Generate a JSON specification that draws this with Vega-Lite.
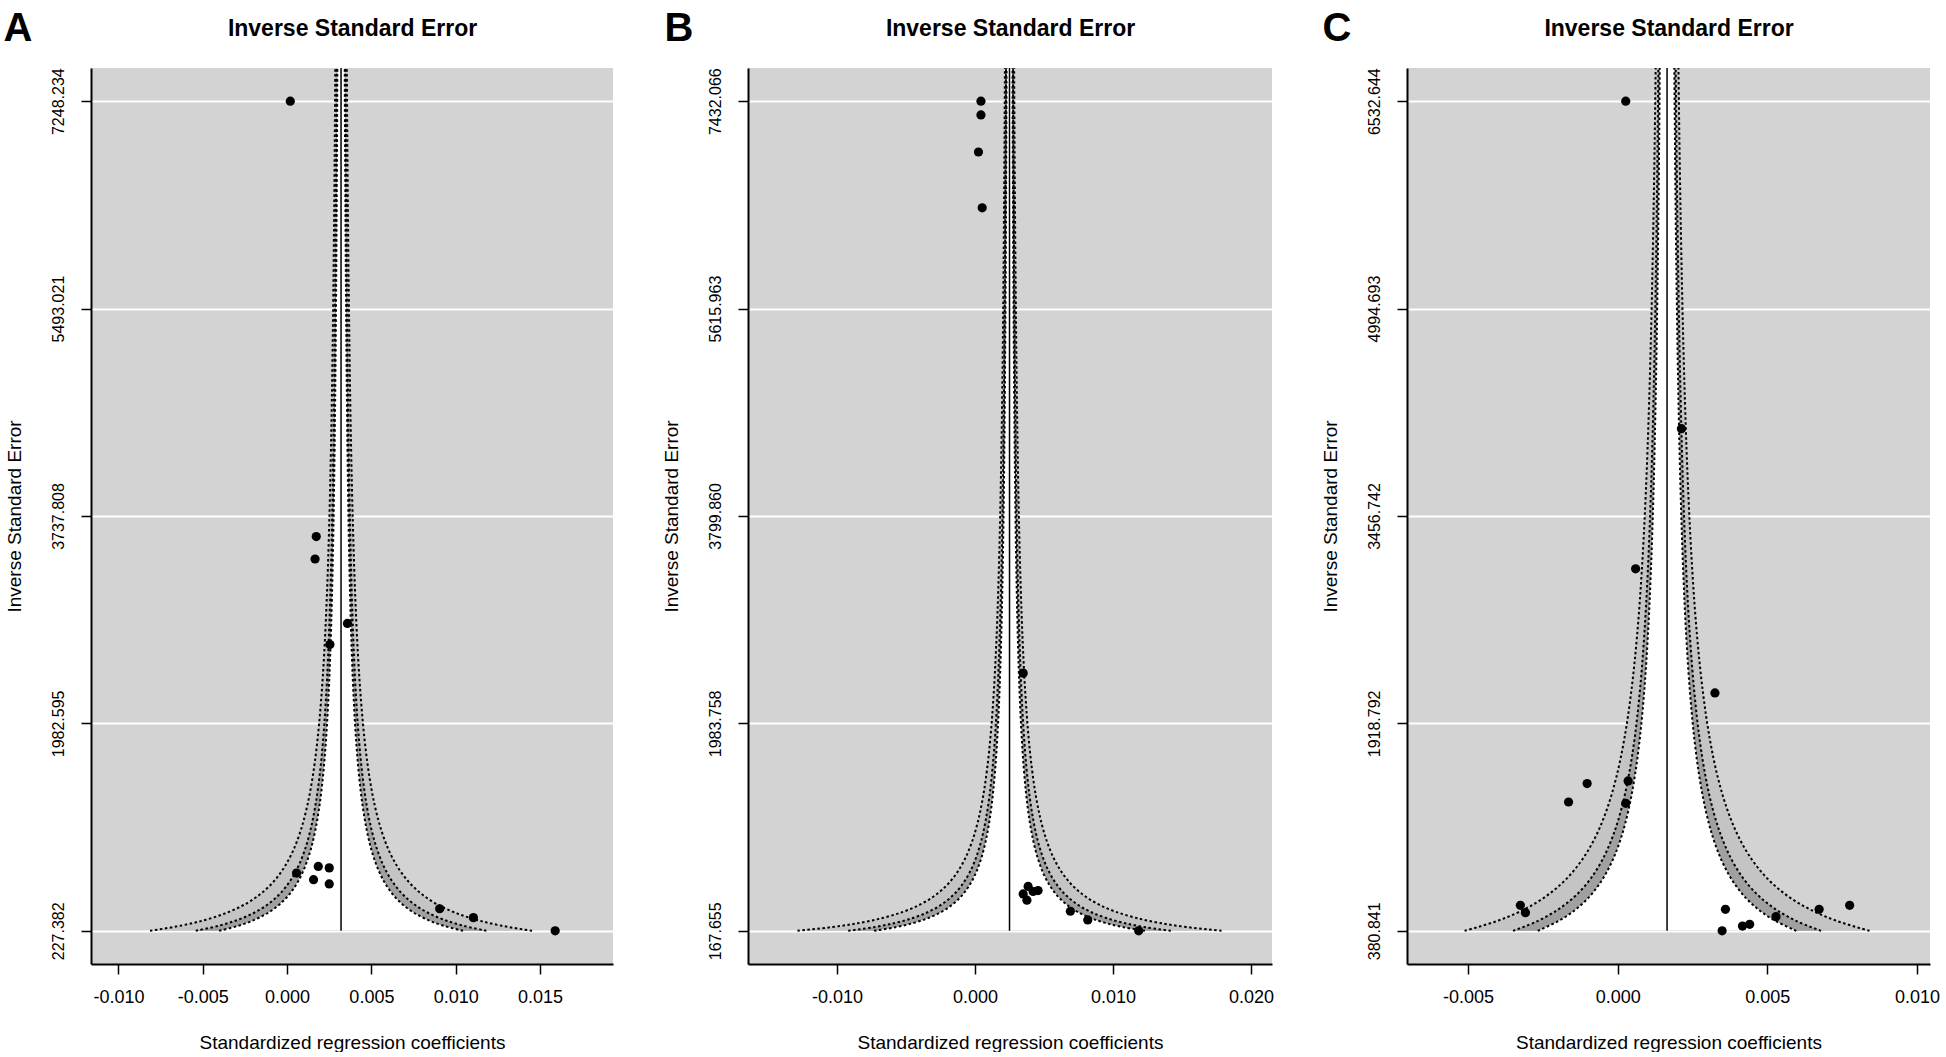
{
  "$schema": "https://vega.github.io/schema/vega-lite/v6.json",
  "background": "white",
  "padding": {"left": 3, "top": 8, "right": 0, "bottom": 0},
  "datasets": {
    "funnel": [
      {"panel":"A","y":227.382,"lo90":-0.004034,"hi90":0.010434,"lo95":-0.00542,"hi95":0.01182,"lo99":-0.008128,"hi99":0.014528},
      {"panel":"A","y":270.405,"lo90":-0.002883,"hi90":0.009283,"lo95":-0.004048,"hi95":0.010448,"lo99":-0.006326,"hi99":0.012726},
      {"panel":"A","y":321.568,"lo90":-0.001915,"hi90":0.008315,"lo95":-0.002895,"hi95":0.009295,"lo99":-0.00481,"hi99":0.01121},
      {"panel":"A","y":382.411,"lo90":-0.001101,"hi90":0.007501,"lo95":-0.001925,"hi95":0.008325,"lo99":-0.003536,"hi99":0.009936},
      {"panel":"A","y":454.764,"lo90":-0.000417,"hi90":0.006817,"lo95":-0.00111,"hi95":0.00751,"lo99":-0.002464,"hi99":0.008864},
      {"panel":"A","y":540.81,"lo90":0.000159,"hi90":0.006242,"lo95":-0.000424,"hi95":0.006824,"lo99":-0.001563,"hi99":0.007963},
      {"panel":"A","y":643.135,"lo90":0.000642,"hi90":0.005758,"lo95":0.000153,"hi95":0.006248,"lo99":-0.000805,"hi99":0.007205},
      {"panel":"A","y":764.822,"lo90":0.001049,"hi90":0.005351,"lo95":0.000637,"hi95":0.005763,"lo99":-0.000168,"hi99":0.006568},
      {"panel":"A","y":909.528,"lo90":0.001392,"hi90":0.005009,"lo95":0.001045,"hi95":0.005355,"lo99":0.000368,"hi99":0.006032},
      {"panel":"A","y":1081.62,"lo90":0.001679,"hi90":0.004721,"lo95":0.001388,"hi95":0.005012,"lo99":0.000819,"hi99":0.005582},
      {"panel":"A","y":1286.27,"lo90":0.001921,"hi90":0.004479,"lo95":0.001676,"hi95":0.004724,"lo99":0.001197,"hi99":0.005203},
      {"panel":"A","y":1529.64,"lo90":0.002125,"hi90":0.004275,"lo95":0.001919,"hi95":0.004481,"lo99":0.001516,"hi99":0.004884},
      {"panel":"A","y":1819.06,"lo90":0.002296,"hi90":0.004104,"lo95":0.002123,"hi95":0.004278,"lo99":0.001784,"hi99":0.004616},
      {"panel":"A","y":2163.24,"lo90":0.00244,"hi90":0.00396,"lo95":0.002294,"hi95":0.004106,"lo99":0.002009,"hi99":0.004391},
      {"panel":"A","y":2572.54,"lo90":0.002561,"hi90":0.003839,"lo95":0.002438,"hi95":0.003962,"lo99":0.002199,"hi99":0.004201},
      {"panel":"A","y":3059.28,"lo90":0.002662,"hi90":0.003738,"lo95":0.002559,"hi95":0.003841,"lo99":0.002358,"hi99":0.004042},
      {"panel":"A","y":3638.11,"lo90":0.002748,"hi90":0.003652,"lo95":0.002661,"hi95":0.003739,"lo99":0.002492,"hi99":0.003908},
      {"panel":"A","y":4326.47,"lo90":0.00282,"hi90":0.00358,"lo95":0.002747,"hi95":0.003653,"lo99":0.002605,"hi99":0.003795},
      {"panel":"A","y":5145.07,"lo90":0.00288,"hi90":0.00352,"lo95":0.002819,"hi95":0.003581,"lo99":0.002699,"hi99":0.003701},
      {"panel":"A","y":6118.55,"lo90":0.002931,"hi90":0.003469,"lo95":0.00288,"hi95":0.00352,"lo99":0.002779,"hi99":0.003621},
      {"panel":"A","y":7276.22,"lo90":0.002974,"hi90":0.003426,"lo95":0.002931,"hi95":0.003469,"lo99":0.002846,"hi99":0.003554},
      {"panel":"A","y":8653.0,"lo90":0.00301,"hi90":0.00339,"lo95":0.002974,"hi95":0.003427,"lo99":0.002902,"hi99":0.003498},
      {"panel":"B","y":167.655,"lo90":-0.007311,"hi90":0.012311,"lo95":-0.009191,"hi95":0.014191,"lo99":-0.012864,"hi99":0.017864},
      {"panel":"B","y":199.377,"lo90":-0.00575,"hi90":0.01075,"lo95":-0.007331,"hi95":0.012331,"lo99":-0.010419,"hi99":0.015419},
      {"panel":"B","y":237.099,"lo90":-0.004437,"hi90":0.009437,"lo95":-0.005766,"hi95":0.010766,"lo99":-0.008364,"hi99":0.013364},
      {"panel":"B","y":281.96,"lo90":-0.003334,"hi90":0.008334,"lo95":-0.004451,"hi95":0.009451,"lo99":-0.006635,"hi99":0.011635},
      {"panel":"B","y":335.31,"lo90":-0.002406,"hi90":0.007406,"lo95":-0.003345,"hi95":0.008345,"lo99":-0.005182,"hi99":0.010182},
      {"panel":"B","y":398.75,"lo90":-0.001625,"hi90":0.006625,"lo95":-0.002415,"hi95":0.007415,"lo99":-0.00396,"hi99":0.00896},
      {"panel":"B","y":474.2,"lo90":-0.000969,"hi90":0.005969,"lo95":-0.001633,"hi95":0.006633,"lo99":-0.002932,"hi99":0.007932},
      {"panel":"B","y":563.92,"lo90":-0.000417,"hi90":0.005417,"lo95":-0.000976,"hi95":0.005976,"lo99":-0.002068,"hi99":0.007068},
      {"panel":"B","y":670.62,"lo90":0.000047,"hi90":0.004953,"lo95":-0.000423,"hi95":0.005423,"lo99":-0.001341,"hi99":0.006341},
      {"panel":"B","y":797.51,"lo90":0.000438,"hi90":0.004563,"lo95":0.000042,"hi95":0.004958,"lo99":-0.00073,"hi99":0.00573},
      {"panel":"B","y":948.39,"lo90":0.000766,"hi90":0.004234,"lo95":0.000433,"hi95":0.004567,"lo99":-0.000216,"hi99":0.005216},
      {"panel":"B","y":1127.85,"lo90":0.001042,"hi90":0.003958,"lo95":0.000762,"hi95":0.004238,"lo99":0.000216,"hi99":0.004784},
      {"panel":"B","y":1341.24,"lo90":0.001274,"hi90":0.003726,"lo95":0.001039,"hi95":0.003961,"lo99":0.00058,"hi99":0.00442},
      {"panel":"B","y":1595.02,"lo90":0.001469,"hi90":0.003531,"lo95":0.001271,"hi95":0.003729,"lo99":0.000885,"hi99":0.004115},
      {"panel":"B","y":1896.81,"lo90":0.001633,"hi90":0.003367,"lo95":0.001467,"hi95":0.003533,"lo99":0.001142,"hi99":0.003858},
      {"panel":"B","y":2255.67,"lo90":0.001771,"hi90":0.003229,"lo95":0.001631,"hi95":0.003369,"lo99":0.001358,"hi99":0.003642},
      {"panel":"B","y":2682.48,"lo90":0.001887,"hi90":0.003113,"lo95":0.001769,"hi95":0.003231,"lo99":0.00154,"hi99":0.00346},
      {"panel":"B","y":3190.0,"lo90":0.001984,"hi90":0.003016,"lo95":0.001886,"hi95":0.003114,"lo99":0.001693,"hi99":0.003308},
      {"panel":"B","y":3793.6,"lo90":0.002066,"hi90":0.002934,"lo95":0.001983,"hi95":0.003017,"lo99":0.001821,"hi99":0.003179},
      {"panel":"B","y":4511.4,"lo90":0.002135,"hi90":0.002865,"lo95":0.002066,"hi95":0.002934,"lo99":0.001929,"hi99":0.003071},
      {"panel":"B","y":5364.96,"lo90":0.002193,"hi90":0.002807,"lo95":0.002135,"hi95":0.002865,"lo99":0.00202,"hi99":0.00298},
      {"panel":"B","y":6380.0,"lo90":0.002242,"hi90":0.002758,"lo95":0.002193,"hi95":0.002807,"lo99":0.002096,"hi99":0.002904},
      {"panel":"B","y":7587.2,"lo90":0.002283,"hi90":0.002717,"lo95":0.002242,"hi95":0.002758,"lo99":0.002161,"hi99":0.00284},
      {"panel":"B","y":9022.8,"lo90":0.002318,"hi90":0.002682,"lo95":0.002283,"hi95":0.002717,"lo99":0.002215,"hi99":0.002786},
      {"panel":"C","y":380.841,"lo90":-0.002669,"hi90":0.005969,"lo95":-0.003496,"hi95":0.006796,"lo99":-0.005114,"hi99":0.008414},
      {"panel":"C","y":452.9,"lo90":-0.001982,"hi90":0.005282,"lo95":-0.002678,"hi95":0.005978,"lo99":-0.004037,"hi99":0.007337},
      {"panel":"C","y":538.59,"lo90":-0.001404,"hi90":0.004704,"lo95":-0.001989,"hi95":0.005289,"lo99":-0.003133,"hi99":0.006433},
      {"panel":"C","y":640.49,"lo90":-0.000918,"hi90":0.004218,"lo95":-0.00141,"hi95":0.00471,"lo99":-0.002372,"hi99":0.005672},
      {"panel":"C","y":761.68,"lo90":-0.00051,"hi90":0.00381,"lo95":-0.000923,"hi95":0.004223,"lo99":-0.001732,"hi99":0.005032},
      {"panel":"C","y":905.8,"lo90":-0.000166,"hi90":0.003466,"lo95":-0.000514,"hi95":0.003814,"lo99":-0.001194,"hi99":0.004494},
      {"panel":"C","y":1077.18,"lo90":0.000123,"hi90":0.003177,"lo95":-0.00017,"hi95":0.00347,"lo99":-0.000741,"hi99":0.004041},
      {"panel":"C","y":1281.0,"lo90":0.000366,"hi90":0.002934,"lo95":0.00012,"hi95":0.00318,"lo99":-0.000361,"hi99":0.003661},
      {"panel":"C","y":1523.36,"lo90":0.00057,"hi90":0.00273,"lo95":0.000363,"hi95":0.002937,"lo99":-0.000041,"hi99":0.003341},
      {"panel":"C","y":1811.6,"lo90":0.000742,"hi90":0.002558,"lo95":0.000568,"hi95":0.002732,"lo99":0.000228,"hi99":0.003072},
      {"panel":"C","y":2154.36,"lo90":0.000887,"hi90":0.002414,"lo95":0.00074,"hi95":0.00256,"lo99":0.000454,"hi99":0.002846},
      {"panel":"C","y":2562.0,"lo90":0.001008,"hi90":0.002292,"lo95":0.000885,"hi95":0.002415,"lo99":0.000645,"hi99":0.002655},
      {"panel":"C","y":3046.73,"lo90":0.00111,"hi90":0.00219,"lo95":0.001007,"hi95":0.002293,"lo99":0.000805,"hi99":0.002495},
      {"panel":"C","y":3623.19,"lo90":0.001196,"hi90":0.002104,"lo95":0.001109,"hi95":0.002191,"lo99":0.000939,"hi99":0.002361},
      {"panel":"C","y":4308.72,"lo90":0.001268,"hi90":0.002032,"lo95":0.001195,"hi95":0.002105,"lo99":0.001052,"hi99":0.002248},
      {"panel":"C","y":5123.95,"lo90":0.001329,"hi90":0.001971,"lo95":0.001268,"hi95":0.002033,"lo99":0.001147,"hi99":0.002153},
      {"panel":"C","y":6093.46,"lo90":0.00138,"hi90":0.00192,"lo95":0.001328,"hi95":0.001972,"lo99":0.001227,"hi99":0.002073},
      {"panel":"C","y":7246.4,"lo90":0.001423,"hi90":0.001877,"lo95":0.00138,"hi95":0.001921,"lo99":0.001295,"hi99":0.002006}
    ],
    "points": [
      {"panel":"A","x":0.00019,"y":7248.234},
      {"panel":"A","x":0.00173,"y":3564},
      {"panel":"A","x":0.00166,"y":3374},
      {"panel":"A","x":0.00358,"y":2829},
      {"panel":"A","x":0.00254,"y":2650},
      {"panel":"A","x":0.00056,"y":716},
      {"panel":"A","x":0.00185,"y":772},
      {"panel":"A","x":0.0025,"y":760},
      {"panel":"A","x":0.00157,"y":660},
      {"panel":"A","x":0.0025,"y":624},
      {"panel":"A","x":0.00905,"y":414},
      {"panel":"A","x":0.01105,"y":339},
      {"panel":"A","x":0.0159,"y":227.382},
      {"panel":"B","x":0.00043,"y":7432.066},
      {"panel":"B","x":0.00043,"y":7312},
      {"panel":"B","x":0.00025,"y":6987},
      {"panel":"B","x":0.00052,"y":6498},
      {"panel":"B","x":0.00349,"y":2424},
      {"panel":"B","x":0.00349,"y":491},
      {"panel":"B","x":0.00385,"y":556},
      {"panel":"B","x":0.00421,"y":512},
      {"panel":"B","x":0.00457,"y":520},
      {"panel":"B","x":0.00376,"y":436},
      {"panel":"B","x":0.00691,"y":339},
      {"panel":"B","x":0.00817,"y":263},
      {"panel":"B","x":0.01186,"y":167.655},
      {"panel":"C","x":0.00027,"y":6532.644},
      {"panel":"C","x":0.00213,"y":4104},
      {"panel":"C","x":0.0006,"y":3065},
      {"panel":"C","x":0.00325,"y":2145},
      {"panel":"C","x":-0.00102,"y":1473},
      {"panel":"C","x":0.00035,"y":1492},
      {"panel":"C","x":-0.00164,"y":1336},
      {"panel":"C","x":0.00027,"y":1326},
      {"panel":"C","x":-0.00325,"y":570},
      {"panel":"C","x":-0.00308,"y":515},
      {"panel":"C","x":0.0036,"y":540},
      {"panel":"C","x":0.00349,"y":380.841},
      {"panel":"C","x":0.00417,"y":416},
      {"panel":"C","x":0.00441,"y":429},
      {"panel":"C","x":0.00529,"y":486},
      {"panel":"C","x":0.00673,"y":540},
      {"panel":"C","x":0.00775,"y":570}
    ],
    "means": [
      {"panel":"A","x":0.0032,"y":227.382,"y2":7529.068},
      {"panel":"B","x":0.0025,"y":167.655,"y2":7722.642},
      {"panel":"C","x":0.00165,"y":380.841,"y2":6778.716}
    ]
  },
  "spacing": 135,
  "bounds": "flush",
  "hconcat": [
    {
      "width": 522, "height": 896,
      "encoding": {"y": {"field": "y", "type": "quantitative", "scale": {"domain": [-53.452, 7529.068], "nice": false, "zero": false}, "axis": {"values": [227.382, 1982.595, 3737.808, 5493.021, 7248.234], "format": ".3f", "title": "Inverse Standard Error"}}},
      "layer": [
        {"data": {"name": "funnel"}, "transform": [{"filter": "datum.panel === 'A'"}], "mark": {"type": "area", "orient": "horizontal", "fill": "#c4c4c4", "clip": true, "interpolate": "catmull-rom"}, "encoding": {"x": {"field": "lo99", "type": "quantitative", "scale": {"domain": [-0.01163, 0.01933], "nice": false, "zero": false}, "axis": {"orient": "bottom", "values": [-0.01, -0.005, 0, 0.005, 0.01, 0.015], "labelExpr": "replace(format(datum.value, '.3f'), '−', '-')", "title": "Standardized regression coefficients"}}, "x2": {"field": "hi99"}}},
        {"data": {"name": "funnel"}, "transform": [{"filter": "datum.panel === 'A'"}], "mark": {"type": "area", "orient": "horizontal", "fill": "#a0a0a0", "clip": true, "interpolate": "catmull-rom"}, "encoding": {"x": {"field": "lo95", "type": "quantitative", "scale": {"domain": [-0.01163, 0.01933], "nice": false, "zero": false}, "axis": null}, "x2": {"field": "hi95"}}},
        {"data": {"name": "funnel"}, "transform": [{"filter": "datum.panel === 'A'"}], "mark": {"type": "area", "orient": "horizontal", "fill": "white", "clip": true, "interpolate": "catmull-rom"}, "encoding": {"x": {"field": "lo90", "type": "quantitative", "scale": {"domain": [-0.01163, 0.01933], "nice": false, "zero": false}, "axis": null}, "x2": {"field": "hi90"}}},
        {"data": {"name": "funnel"}, "transform": [{"filter": "datum.panel === 'A'"}, {"fold": ["lo90", "hi90", "lo95", "hi95", "lo99", "hi99"], "as": ["curve", "xv"]}], "mark": {"type": "line", "color": "black", "strokeWidth": 2, "strokeDash": [2.5, 2.5], "clip": true, "interpolate": "catmull-rom"}, "encoding": {"x": {"field": "xv", "type": "quantitative", "scale": {"domain": [-0.01163, 0.01933], "nice": false, "zero": false}, "axis": null}, "detail": {"field": "curve"}, "order": {"field": "y", "type": "quantitative"}}},
        {"data": {"name": "means"}, "transform": [{"filter": "datum.panel === 'A'"}], "mark": {"type": "rule", "color": "black", "strokeWidth": 1.5, "clip": true}, "encoding": {"x": {"field": "x", "type": "quantitative", "scale": {"domain": [-0.01163, 0.01933], "nice": false, "zero": false}, "axis": {"orient": "top", "title": "Inverse Standard Error", "titleFontSize": 23, "titleFontWeight": "bold", "titleY": -33, "titleBaseline": "alphabetic"}}, "y2": {"field": "y2"}}},
        {"data": {"name": "points"}, "transform": [{"filter": "datum.panel === 'A'"}], "mark": {"type": "circle", "color": "black", "opacity": 1, "size": 85}, "encoding": {"x": {"field": "x", "type": "quantitative", "scale": {"domain": [-0.01163, 0.01933], "nice": false, "zero": false}, "axis": {"orient": "top", "title": "A", "titleFontSize": 40, "titleFontWeight": "bold", "titleAnchor": "start", "titleAlign": "left", "titleX": -88, "titleY": -28, "titleBaseline": "alphabetic"}}}}
      ],
      "resolve": {"axis": {"x": "independent"}}
    },
    {
      "width": 524, "height": 896,
      "encoding": {"y": {"field": "y", "type": "quantitative", "scale": {"domain": [-122.921, 7722.642], "nice": false, "zero": false}, "axis": {"values": [167.655, 1983.758, 3799.86, 5615.963, 7432.066], "format": ".3f", "title": "Inverse Standard Error"}}},
      "layer": [
        {"data": {"name": "funnel"}, "transform": [{"filter": "datum.panel === 'B'"}], "mark": {"type": "area", "orient": "horizontal", "fill": "#c4c4c4", "clip": true, "interpolate": "catmull-rom"}, "encoding": {"x": {"field": "lo99", "type": "quantitative", "scale": {"domain": [-0.01645, 0.02152], "nice": false, "zero": false}, "axis": {"orient": "bottom", "values": [-0.01, 0, 0.01, 0.02], "labelExpr": "replace(format(datum.value, '.3f'), '−', '-')", "title": "Standardized regression coefficients"}}, "x2": {"field": "hi99"}}},
        {"data": {"name": "funnel"}, "transform": [{"filter": "datum.panel === 'B'"}], "mark": {"type": "area", "orient": "horizontal", "fill": "#a0a0a0", "clip": true, "interpolate": "catmull-rom"}, "encoding": {"x": {"field": "lo95", "type": "quantitative", "scale": {"domain": [-0.01645, 0.02152], "nice": false, "zero": false}, "axis": null}, "x2": {"field": "hi95"}}},
        {"data": {"name": "funnel"}, "transform": [{"filter": "datum.panel === 'B'"}], "mark": {"type": "area", "orient": "horizontal", "fill": "white", "clip": true, "interpolate": "catmull-rom"}, "encoding": {"x": {"field": "lo90", "type": "quantitative", "scale": {"domain": [-0.01645, 0.02152], "nice": false, "zero": false}, "axis": null}, "x2": {"field": "hi90"}}},
        {"data": {"name": "funnel"}, "transform": [{"filter": "datum.panel === 'B'"}, {"fold": ["lo90", "hi90", "lo95", "hi95", "lo99", "hi99"], "as": ["curve", "xv"]}], "mark": {"type": "line", "color": "black", "strokeWidth": 2, "strokeDash": [2.5, 2.5], "clip": true, "interpolate": "catmull-rom"}, "encoding": {"x": {"field": "xv", "type": "quantitative", "scale": {"domain": [-0.01645, 0.02152], "nice": false, "zero": false}, "axis": null}, "detail": {"field": "curve"}, "order": {"field": "y", "type": "quantitative"}}},
        {"data": {"name": "means"}, "transform": [{"filter": "datum.panel === 'B'"}], "mark": {"type": "rule", "color": "black", "strokeWidth": 1.5, "clip": true}, "encoding": {"x": {"field": "x", "type": "quantitative", "scale": {"domain": [-0.01645, 0.02152], "nice": false, "zero": false}, "axis": {"orient": "top", "title": "Inverse Standard Error", "titleFontSize": 23, "titleFontWeight": "bold", "titleY": -33, "titleBaseline": "alphabetic"}}, "y2": {"field": "y2"}}},
        {"data": {"name": "points"}, "transform": [{"filter": "datum.panel === 'B'"}], "mark": {"type": "circle", "color": "black", "opacity": 1, "size": 85}, "encoding": {"x": {"field": "x", "type": "quantitative", "scale": {"domain": [-0.01645, 0.02152], "nice": false, "zero": false}, "axis": {"orient": "top", "title": "B", "titleFontSize": 40, "titleFontWeight": "bold", "titleAnchor": "start", "titleAlign": "left", "titleX": -84, "titleY": -28, "titleBaseline": "alphabetic"}}}}
      ],
      "resolve": {"axis": {"x": "independent"}}
    },
    {
      "width": 523, "height": 896,
      "encoding": {"y": {"field": "y", "type": "quantitative", "scale": {"domain": [134.769, 6778.716], "nice": false, "zero": false}, "axis": {"values": [380.841, 1918.792, 3456.742, 4994.693, 6532.644], "format": ".3f", "title": "Inverse Standard Error"}}},
      "layer": [
        {"data": {"name": "funnel"}, "transform": [{"filter": "datum.panel === 'C'"}], "mark": {"type": "area", "orient": "horizontal", "fill": "#c4c4c4", "clip": true, "interpolate": "catmull-rom"}, "encoding": {"x": {"field": "lo99", "type": "quantitative", "scale": {"domain": [-0.007037, 0.010434], "nice": false, "zero": false}, "axis": {"orient": "bottom", "values": [-0.005, 0, 0.005, 0.01], "labelExpr": "replace(format(datum.value, '.3f'), '−', '-')", "title": "Standardized regression coefficients"}}, "x2": {"field": "hi99"}}},
        {"data": {"name": "funnel"}, "transform": [{"filter": "datum.panel === 'C'"}], "mark": {"type": "area", "orient": "horizontal", "fill": "#a0a0a0", "clip": true, "interpolate": "catmull-rom"}, "encoding": {"x": {"field": "lo95", "type": "quantitative", "scale": {"domain": [-0.007037, 0.010434], "nice": false, "zero": false}, "axis": null}, "x2": {"field": "hi95"}}},
        {"data": {"name": "funnel"}, "transform": [{"filter": "datum.panel === 'C'"}], "mark": {"type": "area", "orient": "horizontal", "fill": "white", "clip": true, "interpolate": "catmull-rom"}, "encoding": {"x": {"field": "lo90", "type": "quantitative", "scale": {"domain": [-0.007037, 0.010434], "nice": false, "zero": false}, "axis": null}, "x2": {"field": "hi90"}}},
        {"data": {"name": "funnel"}, "transform": [{"filter": "datum.panel === 'C'"}, {"fold": ["lo90", "hi90", "lo95", "hi95", "lo99", "hi99"], "as": ["curve", "xv"]}], "mark": {"type": "line", "color": "black", "strokeWidth": 2, "strokeDash": [2.5, 2.5], "clip": true, "interpolate": "catmull-rom"}, "encoding": {"x": {"field": "xv", "type": "quantitative", "scale": {"domain": [-0.007037, 0.010434], "nice": false, "zero": false}, "axis": null}, "detail": {"field": "curve"}, "order": {"field": "y", "type": "quantitative"}}},
        {"data": {"name": "means"}, "transform": [{"filter": "datum.panel === 'C'"}], "mark": {"type": "rule", "color": "black", "strokeWidth": 1.5, "clip": true}, "encoding": {"x": {"field": "x", "type": "quantitative", "scale": {"domain": [-0.007037, 0.010434], "nice": false, "zero": false}, "axis": {"orient": "top", "title": "Inverse Standard Error", "titleFontSize": 23, "titleFontWeight": "bold", "titleY": -33, "titleBaseline": "alphabetic"}}, "y2": {"field": "y2"}}},
        {"data": {"name": "points"}, "transform": [{"filter": "datum.panel === 'C'"}], "mark": {"type": "circle", "color": "black", "opacity": 1, "size": 85}, "encoding": {"x": {"field": "x", "type": "quantitative", "scale": {"domain": [-0.007037, 0.010434], "nice": false, "zero": false}, "axis": {"orient": "top", "title": "C", "titleFontSize": 40, "titleFontWeight": "bold", "titleAnchor": "start", "titleAlign": "left", "titleX": -85, "titleY": -28, "titleBaseline": "alphabetic"}}}}
      ],
      "resolve": {"axis": {"x": "independent"}}
    }
  ],
  "config": {
    "font": "Liberation Sans",
    "view": {"fill": "#d3d3d3", "stroke": null},
    "axis": {"labelColor": "black", "titleColor": "black", "tickColor": "black", "domainColor": "black", "labelFont": "Liberation Sans", "titleFont": "Liberation Sans", "titleFontWeight": "normal", "grid": false, "labelOverlap": false, "labelFlush": false},
    "axisY": {"grid": true, "gridColor": "white", "gridWidth": 2, "gridOpacity": 1, "labelAngle": 270, "labelAlign": "center", "labelBaseline": "bottom", "labelFontSize": 16, "labelPadding": 15, "tickSize": 10, "tickWidth": 1.5, "domainWidth": 2, "titleFontSize": 19, "titlePadding": 26},
    "axisBottom": {"labelFontSize": 18, "labelPadding": 14, "tickSize": 10, "tickWidth": 1.5, "domainWidth": 2, "titleFontSize": 19, "titlePadding": 27},
    "axisTop": {"labels": false, "ticks": false, "domain": false, "grid": false}
  }
}
